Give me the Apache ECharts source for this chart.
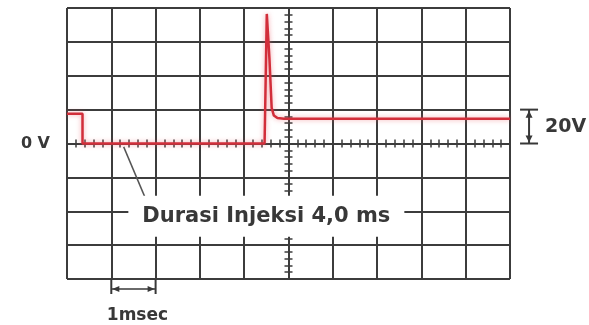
<!DOCTYPE html>
<html><head><meta charset="utf-8">
<script src="https://cdn.jsdelivr.net/npm/echarts@6/dist/echarts.min.js"></script>
<style>html,body{margin:0;padding:0;background:#fff}#c{width:589px;height:325px}</style>
</head><body><div id="c"></div>
<script>
// --- data (time in ms relative to the trigger, voltage in V) ---
const timeMs = [-5.0, -4.65, -4.65, -0.54, -0.49, -0.43, -0.38, -0.33, -0.25, -0.1, 5.0];
const volts  = [17.5, 17.5, 0, 0, 76.5, 50, 21, 16.5, 15, 14.6, 14.6];
const xRange = [-5, 5];
const xStep = 1;
const yRange = [-80, 80];
const yStep = 20;
const zeroLabel = '0 V';
const scaleLabel = '20V';
const scaleSpan = [0, 20];
const scaleX = 5.43;
const timeLabel = '1msec';
const timeSpan = [-4, -3];
const noteText = 'Durasi Injeksi 4,0 ms';
const notePos = [-0.5, -43];
const leaderFrom = [-3.72, -2];
const leaderTo = [-3.22, -33];

const gridColor = '#3c3c3c';
const textColor = '#383838';
const font = '"DejaVu Sans", sans-serif';

const chart = echarts.init(document.getElementById('c'));

function tickAxis(dim, inside) {
  return {
    type: 'value', min: dim === 'x' ? xRange[0] : yRange[0], max: dim === 'x' ? xRange[1] : yRange[1],
    interval: dim === 'x' ? xStep : yStep,
    position: dim === 'x' ? 'bottom' : 'left',
    axisLine: {show: true, onZero: true, onZeroAxisIndex: 0, lineStyle: {color: gridColor, width: 2}},
    axisTick: {show: true, inside: inside, length: 4, lineStyle: {color: gridColor, width: 1.5}},
    minorTick: {show: true, splitNumber: 5, length: 4, lineStyle: {color: gridColor, width: 1.5}},
    axisLabel: {show: false}, splitLine: {show: false}, minorSplitLine: {show: false}
  };
}

chart.setOption({
  animation: false,
  backgroundColor: '#fff',
  grid: {left: 67, right: 79, top: 8, bottom: 46, containLabel: false, outerBoundsMode: 'none'},
  xAxis: [
    {type: 'value', min: xRange[0], max: xRange[1], interval: xStep, position: 'bottom',
     axisLine: {show: false, onZero: false}, axisTick: {show: false}, axisLabel: {show: false},
     splitLine: {show: true, lineStyle: {color: gridColor, width: 2}}},
    tickAxis('x', false), tickAxis('x', true)
  ],
  yAxis: [
    {type: 'value', min: yRange[0], max: yRange[1], interval: yStep, position: 'left',
     axisLine: {show: false, onZero: false}, axisTick: {show: false},
     axisLabel: {show: true, margin: 17, formatter: v => v === 0 ? zeroLabel : '',
       color: textColor, fontFamily: font, fontWeight: 'bold', fontSize: 16},
     splitLine: {show: true, lineStyle: {color: gridColor, width: 2}}},
    tickAxis('y', false), tickAxis('y', true)
  ],
  series: [{
    type: 'line', xAxisIndex: 0, yAxisIndex: 0, symbol: 'none', z: 5,
    data: timeMs.map((t, i) => [t, volts[i]]),
    lineStyle: {color: '#d22e3a', width: 2.5, shadowColor: 'rgba(235,90,100,0.55)', shadowBlur: 5}
  }]
});

const px = p => chart.convertToPixel({gridIndex: 0}, p);
const els = [];
const ink = {stroke: textColor, lineWidth: 2};

// leader line to the note
const lf = px(leaderFrom), lt = px(leaderTo);
els.push({type: 'line', z: 100, shape: {x1: lf[0], y1: lf[1], x2: lt[0], y2: lt[1]}, style: {stroke: '#555', lineWidth: 1.5}});
// note text with white box
const np = px(notePos);
els.push({type: 'text', z: 101, x: np[0], y: np[1], style: {text: noteText, fill: textColor,
  font: 'bold 21px ' + font, align: 'center', verticalAlign: 'middle', backgroundColor: '#fff', padding: [10, 14, 10, 14]}});

// 20V scale marker
const s0 = px([scaleX, scaleSpan[0]]), s1 = px([scaleX, scaleSpan[1]]);
els.push({type: 'line', z: 100, shape: {x1: s0[0], y1: s0[1], x2: s1[0], y2: s1[1]}, style: ink});
els.push({type: 'line', z: 100, shape: {x1: s0[0] - 9, y1: s0[1], x2: s0[0] + 9, y2: s0[1]}, style: ink});
els.push({type: 'line', z: 100, shape: {x1: s1[0] - 9, y1: s1[1], x2: s1[0] + 9, y2: s1[1]}, style: ink});
els.push({type: 'polygon', z: 100, shape: {points: [[s1[0], s1[1] + 1], [s1[0] - 3.5, s1[1] + 8], [s1[0] + 3.5, s1[1] + 8]]}, style: {fill: textColor}});
els.push({type: 'polygon', z: 100, shape: {points: [[s0[0], s0[1] - 1], [s0[0] - 3.5, s0[1] - 8], [s0[0] + 3.5, s0[1] - 8]]}, style: {fill: textColor}});
els.push({type: 'text', z: 100, x: s0[0] + 16, y: (s0[1] + s1[1]) / 2, style: {text: scaleLabel, fill: textColor,
  font: 'bold 19px ' + font, align: 'left', verticalAlign: 'middle'}});

// 1 msec bracket
const t0 = px([timeSpan[0], yRange[0]]), t1 = px([timeSpan[1], yRange[0]]);
const by = t0[1] + 10;
els.push({type: 'line', z: 100, shape: {x1: t0[0], y1: t0[1], x2: t0[0], y2: t0[1] + 15}, style: ink});
els.push({type: 'line', z: 100, shape: {x1: t1[0], y1: t1[1], x2: t1[0], y2: t1[1] + 15}, style: ink});
els.push({type: 'line', z: 100, shape: {x1: t0[0], y1: by, x2: t1[0], y2: by}, style: {stroke: textColor, lineWidth: 1.5}});
els.push({type: 'polygon', z: 100, shape: {points: [[t0[0] + 1, by], [t0[0] + 8, by - 3], [t0[0] + 8, by + 3]]}, style: {fill: textColor}});
els.push({type: 'polygon', z: 100, shape: {points: [[t1[0] - 1, by], [t1[0] - 8, by - 3], [t1[0] - 8, by + 3]]}, style: {fill: textColor}});
els.push({type: 'text', z: 100, x: (t0[0] + t1[0]) / 2 + 4, y: t0[1] + 37, style: {text: timeLabel, fill: textColor,
  font: 'bold 17px ' + font, align: 'center', verticalAlign: 'middle'}});

chart.setOption({graphic: {elements: els}});
</script></body></html>
